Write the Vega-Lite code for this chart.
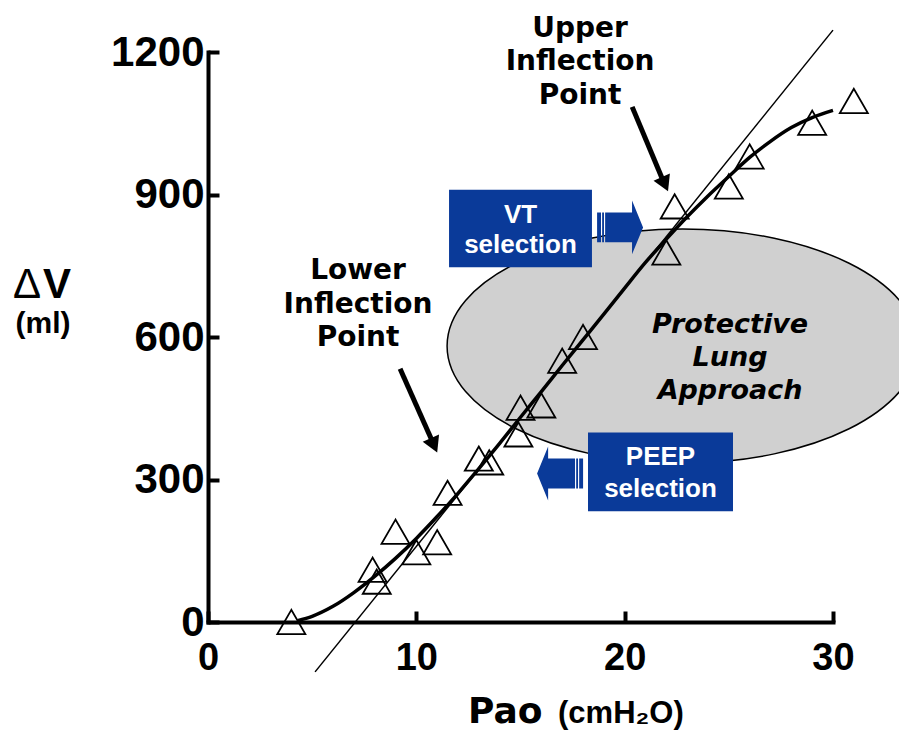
{
  "$schema": "https://vega.github.io/schema/vega-lite/v6.json",
  "width": 625,
  "height": 570,
  "autosize": {"type": "none"},
  "padding": {"left": 208, "top": 52, "right": 66, "bottom": 113},
  "background": "white",
  "config": {"view": {"stroke": null}},
  "encoding": {
    "x": {
      "field": "x", "type": "quantitative",
      "scale": {"domain": [0, 30], "nice": false, "zero": false},
      "axis": {
        "values": [0, 10, 20, 30], "title": null, "grid": false, "format": "d",
        "domainColor": "black", "domainWidth": 4, "domainCap": "square",
        "tickColor": "black", "tickWidth": 4, "tickSize": -11,
        "labelFont": "Liberation Sans", "labelFontWeight": "bold", "labelFontSize": 38,
        "labelColor": "black", "labelPadding": 28, "labelFlush": false, "labelBaseline": "top"
      }
    },
    "y": {
      "field": "y", "type": "quantitative",
      "scale": {"domain": [0, 1200], "nice": false, "zero": false},
      "axis": {
        "values": [0, 300, 600, 900, 1200], "title": null, "grid": false, "format": "d",
        "domainColor": "black", "domainWidth": 4, "domainCap": "square",
        "tickColor": "black", "tickWidth": 4, "tickSize": -11,
        "labelFont": "Liberation Sans", "labelFontWeight": "bold", "labelFontSize": 42,
        "labelColor": "black", "labelPadding": 15, "labelFlush": false, "labelBaseline": "middle", "labelAlign": "right"
      }
    }
  },
  "layer": [
    {
      "data": {"values": [{"x": 22.78, "y": 581}]},
      "mark": {"type": "point", "shape": "M-1,0C-1,-0.2745,-0.5523,-0.497,0,-0.497C0.5523,-0.497,1,-0.2745,1,0C1,0.2745,0.5523,0.497,0,0.497C-0.5523,0.497,-1,0.2745,-1,0Z", "size": 221841, "filled": true, "fill": "#d0d0d0", "stroke": "black", "strokeWidth": 1.5, "opacity": 1}
    },
    {
      "data": {"values": [{"x": 11.57, "x2": 18.43, "y": 910, "y2": 747}, {"x": 18.24, "x2": 25.2, "y": 399, "y2": 233}]},
      "mark": {"type": "rect", "fill": "#0a3a99"},
      "encoding": {"x2": {"field": "x2"}, "y2": {"field": "y2"}}
    },
    {
      "data": {"values": [{"x": 19.78, "y": 830.7}]},
      "mark": {"type": "point", "shape": "M-1,-0.65H-0.83V0.65H-1Z M-0.78,-0.65H-0.7V0.65H-0.78Z M-0.65,-0.65H0.52V-1.17L1,0L0.52,1.17V0.65H-0.65Z", "size": 2116, "filled": true, "fill": "#0a3a99", "strokeWidth": 0, "opacity": 1}
    },
    {
      "data": {"values": [{"x": 16.9, "y": 312.6}]},
      "mark": {"type": "point", "shape": "M-1,-0.65H-0.83V0.65H-1Z M-0.78,-0.65H-0.7V0.65H-0.78Z M-0.65,-0.65H0.52V-1.17L1,0L0.52,1.17V0.65H-0.65Z", "size": 2116, "angle": 180, "filled": true, "fill": "#0a3a99", "strokeWidth": 0, "opacity": 1}
    },
    {
      "data": {"values": [{"x": 5.14, "y": -105, "x2": 30, "y2": 1246}]},
      "mark": {"type": "rule", "color": "black", "strokeWidth": 1.5},
      "encoding": {"x2": {"field": "x2"}, "y2": {"field": "y2"}}
    },
    {
      "data": {"values": [
        {"x": 4.3, "y": 3}, {"x": 5, "y": 12}, {"x": 6, "y": 33}, {"x": 7, "y": 62}, {"x": 8, "y": 96},
        {"x": 9, "y": 134}, {"x": 10, "y": 176}, {"x": 11, "y": 222}, {"x": 12, "y": 271}, {"x": 13, "y": 323},
        {"x": 14, "y": 376}, {"x": 15, "y": 431}, {"x": 16, "y": 485}, {"x": 17, "y": 540}, {"x": 18, "y": 594},
        {"x": 19, "y": 648}, {"x": 20, "y": 703}, {"x": 21, "y": 757}, {"x": 22, "y": 806}, {"x": 23, "y": 853},
        {"x": 24, "y": 897}, {"x": 25, "y": 938}, {"x": 26, "y": 978}, {"x": 27, "y": 1012}, {"x": 28, "y": 1041},
        {"x": 29, "y": 1062}, {"x": 30, "y": 1077}
      ]},
      "mark": {"type": "line", "color": "black", "strokeWidth": 3.5, "interpolate": "monotone"}
    },
    {
      "data": {"values": [
        {"x": 4, "y": 0}, {"x": 7.9, "y": 110}, {"x": 8.1, "y": 85}, {"x": 9, "y": 190}, {"x": 10, "y": 147},
        {"x": 11, "y": 168}, {"x": 11.5, "y": 272}, {"x": 13, "y": 344}, {"x": 13.5, "y": 336}, {"x": 14.9, "y": 395},
        {"x": 15, "y": 451}, {"x": 16, "y": 456}, {"x": 17, "y": 550}, {"x": 18, "y": 600}, {"x": 22, "y": 778},
        {"x": 22.4, "y": 875}, {"x": 25, "y": 917}, {"x": 26, "y": 980}, {"x": 29, "y": 1051}, {"x": 31, "y": 1097}
      ]},
      "mark": {"type": "point", "shape": "triangle-up", "size": 784, "filled": false, "stroke": "black", "strokeWidth": 1.8, "opacity": 1}
    },
    {
      "data": {"values": [{"x": 9.22, "y": 533, "x2": 10.75, "y2": 382}, {"x": 20.36, "y": 1084.5, "x2": 21.8, "y2": 933.5}]},
      "mark": {"type": "rule", "color": "black", "strokeWidth": 5},
      "encoding": {"x2": {"field": "x2"}, "y2": {"field": "y2"}}
    },
    {
      "data": {"values": [{"x": 10.85, "y": 372}, {"x": 21.93, "y": 921.7}]},
      "mark": {"type": "point", "shape": "triangle-down", "size": 320, "angle": -24, "filled": true, "fill": "black", "strokeWidth": 0, "opacity": 1}
    },
    {
      "data": {"values": [
        {"x": 17.86, "y": 1231, "t": "Upper"}, {"x": 17.86, "y": 1162, "t": "Inflection"}, {"x": 17.86, "y": 1091, "t": "Point"},
        {"x": 7.2, "y": 721.6, "t": "Lower"}, {"x": 7.2, "y": 650.3, "t": "Inflection"}, {"x": 7.2, "y": 581, "t": "Point"}
      ]},
      "mark": {"type": "text", "font": "DejaVu Sans", "fontWeight": "bold", "fontSize": 28, "color": "black", "align": "center", "baseline": "alphabetic"},
      "encoding": {"text": {"field": "t"}}
    },
    {
      "data": {"values": [
        {"x": 25.06, "y": 608.3, "t": "Protective"}, {"x": 25.06, "y": 539, "t": "Lung"}, {"x": 25.06, "y": 470, "t": "Approach"}
      ]},
      "mark": {"type": "text", "font": "DejaVu Sans", "fontWeight": "bold", "fontStyle": "italic", "fontSize": 27, "color": "black", "align": "center", "baseline": "alphabetic"},
      "encoding": {"text": {"field": "t"}}
    },
    {
      "data": {"values": [
        {"x": 15.0, "y": 839, "t": "VT"}, {"x": 15.0, "y": 776, "t": "selection"},
        {"x": 21.72, "y": 331.4, "t": "PEEP"}, {"x": 21.72, "y": 262.2, "t": "selection"}
      ]},
      "mark": {"type": "text", "font": "Liberation Sans", "fontWeight": "bold", "fontSize": 26, "color": "white", "align": "center", "baseline": "alphabetic"},
      "encoding": {"text": {"field": "t"}}
    },
    {
      "data": {"values": [{"x": -8.69, "y": 681.8, "t": "Δ"}]},
      "mark": {"type": "text", "font": "Liberation Sans", "fontSize": 42, "color": "black", "align": "center", "baseline": "alphabetic"},
      "encoding": {"text": {"field": "t"}}
    },
    {
      "data": {"values": [{"x": -7.25, "y": 681.8, "t": "V"}]},
      "mark": {"type": "text", "font": "Liberation Sans", "fontWeight": "bold", "fontSize": 42, "color": "black", "align": "center", "baseline": "alphabetic"},
      "encoding": {"text": {"field": "t"}}
    },
    {
      "data": {"values": [{"x": -7.92, "y": 608, "t": "(ml)"}]},
      "mark": {"type": "text", "font": "Liberation Sans", "fontWeight": "bold", "fontSize": 30, "color": "black", "align": "center", "baseline": "alphabetic"},
      "encoding": {"text": {"field": "t"}}
    },
    {
      "data": {"values": [{"x": 12.48, "y": -212, "t": "Pao"}]},
      "mark": {"type": "text", "font": "DejaVu Sans", "fontWeight": "bold", "fontSize": 36, "color": "black", "align": "left", "baseline": "alphabetic"},
      "encoding": {"text": {"field": "t"}}
    },
    {
      "data": {"values": [{"x": 16.8, "y": -212, "t": "(cmH₂O)"}]},
      "mark": {"type": "text", "font": "Liberation Sans", "fontWeight": "bold", "fontSize": 31, "color": "black", "align": "left", "baseline": "alphabetic"},
      "encoding": {"text": {"field": "t"}}
    }
  ]
}
